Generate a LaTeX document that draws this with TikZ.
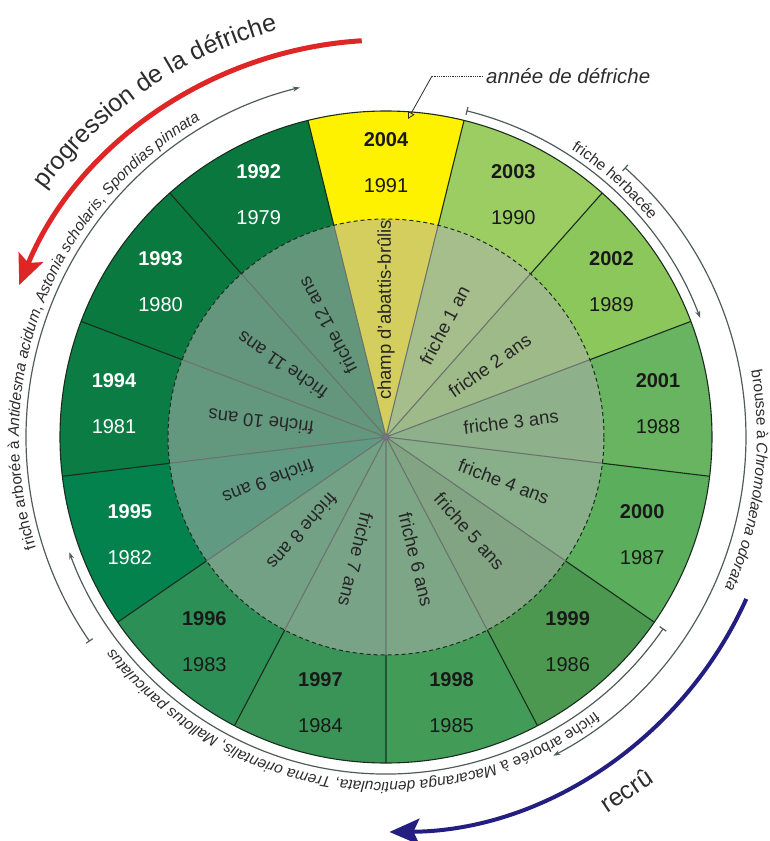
\documentclass[tikz,border=0pt]{standalone}
\usepackage{fontspec}
\setmainfont{Liberation Sans}
\usepackage{xcolor}
\usepackage{tikz}
\usetikzlibrary{positioning, calc, arrows.meta, decorations.text}
\definecolor{cA}{RGB}{255,242,0}
\definecolor{cB}{RGB}{155,205,98}
\definecolor{cC}{RGB}{140,199,92}
\definecolor{cD}{RGB}{104,180,96}
\definecolor{cE}{RGB}{90,174,92}
\definecolor{cF}{RGB}{76,152,80}
\definecolor{cG}{RGB}{66,156,88}
\definecolor{cH}{RGB}{58,148,88}
\definecolor{cI}{RGB}{44,144,86}
\definecolor{cJ}{RGB}{4,130,78}
\definecolor{cK}{RGB}{10,124,68}
\definecolor{cL}{RGB}{10,121,64}
\definecolor{cM}{RGB}{10,120,62}
\definecolor{veil}{RGB}{176,176,176}
\definecolor{spokegreen}{RGB}{25,45,30}
\definecolor{arcgray}{RGB}{80,92,92}
\definecolor{inktext}{RGB}{38,38,38}
\definecolor{yeardark}{RGB}{25,25,25}
\definecolor{labelgray}{RGB}{45,45,45}
\definecolor{redarc}{RGB}{222,38,38}
\definecolor{bluearc}{RGB}{35,30,128}
\definecolor{hubgray}{RGB}{130,110,130}
\newcommand{\arcfont}{\fontsize{15.5}{18}\selectfont\color{labelgray}\upshape}
\newcommand{\arcital}{\fontsize{15.5}{18}\selectfont\color{labelgray}\itshape}
\newcommand{\bigfont}{\fontsize{25}{28}\selectfont\color{labelgray}}
\begin{document}
\begin{tikzpicture}[x=1pt,y=1pt,
	yearpair/.style={font=\fontsize{20}{46}\selectfont, align=center, inner sep=0pt},
	agetext/.style={font=\fontsize{18.5}{20}\selectfont, text=inktext, inner sep=0pt},
	spoke/.style={spokegreen, line width=1.1pt},
	phasearc/.style={arcgray, line width=1.2pt, {Bar[width=8pt]}-{Stealth[length=7pt,width=5pt]}},
	arctext/.style={decorate, decoration={text along path, text align=center, text={#1}}},
	bigarrow/.style={line width=5pt, -{Stealth[length=30pt,width=26pt,inset=6pt]}},
	calltext/.style={font=\fontsize{20.5}{24}\selectfont\itshape, text=labelgray, inner sep=3pt}]
			\useasboundingbox (-386,-404) rectangle (384,437);
			% outer ring of years
			\fill[cA] (0,0) -- (76.154:326) arc[start angle=76.154, end angle=103.846, radius=326] -- cycle;
			\fill[cB] (0,0) -- (48.462:326) arc[start angle=48.462, end angle=76.154, radius=326] -- cycle;
			\fill[cC] (0,0) -- (20.769:326) arc[start angle=20.769, end angle=48.462, radius=326] -- cycle;
			\fill[cD] (0,0) -- (-6.923:326) arc[start angle=-6.923, end angle=20.769, radius=326] -- cycle;
			\fill[cE] (0,0) -- (-34.615:326) arc[start angle=-34.615, end angle=-6.923, radius=326] -- cycle;
			\fill[cF] (0,0) -- (-62.308:326) arc[start angle=-62.308, end angle=-34.615, radius=326] -- cycle;
			\fill[cG] (0,0) -- (-90:326) arc[start angle=-90, end angle=-62.308, radius=326] -- cycle;
			\fill[cH] (0,0) -- (-117.692:326) arc[start angle=-117.692, end angle=-90, radius=326] -- cycle;
			\fill[cI] (0,0) -- (-145.385:326) arc[start angle=-145.385, end angle=-117.692, radius=326] -- cycle;
			\fill[cJ] (0,0) -- (-173.077:326) arc[start angle=-173.077, end angle=-145.385, radius=326] -- cycle;
			\fill[cK] (0,0) -- (-200.769:326) arc[start angle=-200.769, end angle=-173.077, radius=326] -- cycle;
			\fill[cL] (0,0) -- (-228.462:326) arc[start angle=-228.462, end angle=-200.769, radius=326] -- cycle;
			\fill[cM] (0,0) -- (-256.154:326) arc[start angle=-256.154, end angle=-228.462, radius=326] -- cycle;
			% spokes between the years
			\draw[spoke] (0,0) -- (103.846:326) (0,0) -- (76.154:326) (0,0) -- (48.462:326)
				(0,0) -- (20.769:326) (0,0) -- (-6.923:326) (0,0) -- (-34.615:326)
				(0,0) -- (-62.308:326) (0,0) -- (-90:326) (0,0) -- (-117.692:326)
				(0,0) -- (-145.385:326) (0,0) -- (-173.077:326) (0,0) -- (-200.769:326)
				(0,0) -- (-228.462:326);
			% inner disk of fallow ages
			\fill[veil, opacity=.54] (0,0) circle[radius=218];
			\draw[spokegreen, line width=1pt, dash pattern=on 4pt off 3pt] (0,0) circle[radius=218];
			\draw[spokegreen, line width=1.1pt] (0,0) circle[radius=326];
			\node[circle, fill=hubgray, minimum size=5pt, inner sep=0pt] (hub) at (0,0) {};
			% years: clearing year above, first year below
			\node[yearpair, text=yeardark] (y2004) at (90:274) {\textbf{2004}\\1991};
			\node[yearpair, text=yeardark] (y2003) at (62.308:274) {\textbf{2003}\\1990};
			\node[yearpair, text=yeardark] (y2002) at (34.615:274) {\textbf{2002}\\1989};
			\node[yearpair, text=yeardark] (y2001) at (6.923:274) {\textbf{2001}\\1988};
			\node[yearpair, text=yeardark] (y2000) at (-20.769:274) {\textbf{2000}\\1987};
			\node[yearpair, text=yeardark] (y1999) at (-48.462:274) {\textbf{1999}\\1986};
			\node[yearpair, text=yeardark] (y1998) at (-76.154:274) {\textbf{1998}\\1985};
			\node[yearpair, text=yeardark] (y1997) at (-103.846:274) {\textbf{1997}\\1984};
			\node[yearpair, text=yeardark] (y1996) at (-131.538:274) {\textbf{1996}\\1983};
			\node[yearpair, text=white] (y1995) at (-159.231:274) {\textbf{1995}\\1982};
			\node[yearpair, text=white] (y1994) at (173.077:274) {\textbf{1994}\\1981};
			\node[yearpair, text=white] (y1993) at (145.385:274) {\textbf{1993}\\1980};
			\node[yearpair, text=white] (y1992) at (117.692:274) {\textbf{1992}\\1979};
			% ages of the fallows
			\node[agetext, rotate=90] (age0) at (90:127) {champ d'abattis-brûlis};
			\node[agetext, rotate=62.308] (age1) at (62.308:126) {friche 1 an};
			\node[agetext, rotate=34.615] (age2) at (34.615:126) {friche 2 ans};
			\node[agetext, rotate=6.923] (age3) at (6.923:126) {friche 3 ans};
			\node[agetext, rotate=-20.769] (age4) at (-20.769:126) {friche 4 ans};
			\node[agetext, rotate=-48.462] (age5) at (-48.462:126) {friche 5 ans};
			\node[agetext, rotate=-76.154] (age6) at (-76.154:126) {friche 6 ans};
			\node[agetext, rotate=-103.846] (age7) at (-103.846:126) {friche 7 ans};
			\node[agetext, rotate=-131.538] (age8) at (-131.538:126) {friche 8 ans};
			\node[agetext, rotate=-159.231] (age9) at (-159.231:126) {friche 9 ans};
			\node[agetext, rotate=173.077] (age10) at (173.077:126) {friche 10 ans};
			\node[agetext, rotate=145.385] (age11) at (145.385:126) {friche 11 ans};
			\node[agetext, rotate=117.692] (age12) at (117.692:126) {friche 12 ans};
			% vegetation phases round the ring
			\draw[phasearc] (76.154:336) arc[start angle=76.154, end angle=20.769, radius=336];
			\draw[phasearc] (48.462:360) arc[start angle=48.462, end angle=-62.308, radius=360];
			\draw[phasearc] (-34.615:337) arc[start angle=-34.615, end angle=-160, radius=337];
			\draw[phasearc] (-145.385:360) arc[start angle=-145.385, end angle=-256.154, radius=360];
			\path[arctext={|\arcfont|friche herbacée}] (78:342) arc[start angle=78, end angle=18.6, radius=342];
			\path[arctext={|\arcfont|brousse à |\arcital|Chromolaena odorata}] (30:371) arc[start angle=30, end angle=-43.8, radius=371];
			\path[arctext={|\arcfont|friche arborée à |\arcital|Macaranga denticulata|\arcfont|, |\arcital|Trema orientalis|\arcfont|, |\arcital|Mallotus paniculatus}] (-30:345) arc[start angle=-30, end angle=-165, radius=345];
			\path[arctext={|\arcfont|friche arborée à |\arcital|Antidesma acidum|\arcfont|, |\arcital|Astonia scholaris|\arcfont|, |\arcital|Spondias pinnata}] (215:367) arc[start angle=215, end angle=103, radius=367];
			% clearing and regrowth arrows
			\draw[bigarrow, redarc] (93.5:397) arc[start angle=93.5, end angle=157.5, radius=397];
			\path[arctext={|\bigfont|progression de la défriche}] (165:421) arc[start angle=165, end angle=84, radius=421];
			\draw[bigarrow, bluearc, line width=4pt] (-24.2:395) arc[start angle=-24.2, end angle=-89.5, radius=395];
			\node[font=\fontsize{25}{28}\selectfont, text=labelgray, rotate=34] (recru) at (-55.8:427) {recrû};
			% callout to the clearing year
			\node[calltext, anchor=west] (callout) at (97,361) {année de défriche};
			\coordinate (bend) at (46,361);
			\coordinate (tip) at (22,318);
			\draw[labelgray, line width=.8pt, densely dotted] (callout.west) -- (bend);
			\draw[labelgray, line width=.8pt, -{Triangle[open,length=7pt,width=7pt]}] (bend) -- (tip);
\end{tikzpicture}
\end{document}
